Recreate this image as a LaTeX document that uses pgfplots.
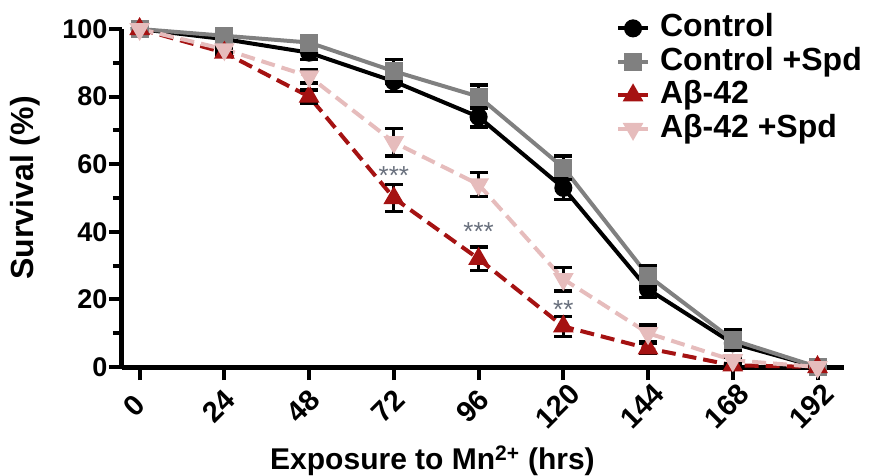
\documentclass[border=0pt]{standalone}
\usepackage{fontspec}
\setmainfont{Liberation Sans}
\usepackage{pgfplots}
\pgfplotsset{compat=1.18}
\definecolor{ctrlgray}{RGB}{128,128,128}
\definecolor{abred}{RGB}{165,18,18}
\definecolor{abpink}{RGB}{230,188,188}
\definecolor{stargray}{RGB}{105,112,125}
\begin{document}
\begin{tikzpicture}
\begin{axis}[
  name=ax,
  scale only axis, width=722pt, height=338pt,
  xmin=-5, xmax=199.5, ymin=0, ymax=100,
  axis lines*=left,
  axis line style={line width=5pt, black},
  xtick={0,24,...,192}, ytick={0,20,...,100}, minor ytick={10,30,50,70,90},
  tick align=outside, major tick length=13pt, minor tick length=9pt,
  tick style={black, line width=4pt},
  /pgf/number format/assume math mode=true,
  ticklabel style={font=\bfseries\fontsize{27}{27}\selectfont},
  yticklabel style={xshift=2pt},
  xticklabel style={font=\bfseries\fontsize{29}{29}\selectfont, anchor=center, xshift=-6pt, yshift=-26pt, rotate=45},
  xlabel={Exposure to Mn\textsuperscript{2+} (hrs)}, ylabel={Survival (\%)},
  xlabel style={font=\bfseries\fontsize{30}{30}\selectfont, at={(axis description cs:0.43,-0.278)}, anchor=center},
  ylabel style={font=\bfseries\fontsize{32}{32}\selectfont, at={(axis description cs:-0.134,0.53)}, anchor=center},
  clip=false,
  legend style={at={(axis description cs:0.684,1.052)}, anchor=north west, draw=none, fill=none,
    font=\bfseries\fontsize{32}{32}\selectfont, row sep=0pt, column sep=8pt, inner sep=0pt,
    nodes={inner sep=2pt, text height=23pt, text depth=6.5pt}},
  legend cell align=left,
  legend image code/.code={\draw[#1,solid,mark repeat=2,mark phase=2] plot coordinates {(0pt,0pt) (15pt,0pt) (30pt,0pt)};},
  every axis plot/.append style={line width=4pt},
  error bars/error bar style={black, line width=3pt, solid},
  error bars/error mark options={rotate=90, mark size=9pt, line width=3.5pt, black, solid},
]
\addplot[black, solid, mark=*, mark size=7pt, mark options={solid},
  error bars/.cd, y dir=both, y explicit]
  table[x=x, y=y, y error=e] {
x y e
0 100 0
24 97 1
48 93 2
72 84.5 3
96 74 3
120 53 3.5
144 23 2.5
168 7 2
192 0 0
};
\addlegendentry{Control}
\addplot[ctrlgray, solid, mark=square*, mark size=7pt, mark options={solid},
  error bars/.cd, y dir=both, y explicit]
  table[x=x, y=y, y error=e] {
x y e
0 100 0
24 98 1
48 96 1.5
72 87.5 3.5
96 80 3.5
120 59 3.5
144 27 3
168 8 3
192 0 0
};
\addlegendentry{Control +Spd}
\addplot[abred, dashed, dash pattern=on 14pt off 7pt, mark=triangle*, mark size=8pt, mark options={solid},
  error bars/.cd, y dir=both, y explicit]
  table[x=x, y=y, y error=e] {
x y e
0 100 0
24 93 1
48 80 2
72 50 4
96 32 3.5
120 12 3
144 5.5 1.5
168 0.5 0.5
192 0 0
};
\addlegendentry{Aβ-42}
\addplot[abpink, dashed, dash pattern=on 14pt off 7pt, mark=triangle*, mark size=8pt, mark options={solid, rotate=180},
  error bars/.cd, y dir=both, y explicit]
  table[x=x, y=y, y error=e] {
x y e
0 100 0
24 94 1
48 86 2
72 66.5 4
96 54 3.5
120 26 3.5
144 10 2.5
168 2 1
192 0 0
};
\addlegendentry{Aβ-42 +Spd}
\node[font=\fontsize{26}{26}\selectfont, text=stargray] at (axis cs:72,56.5) {***};
\node[font=\fontsize{26}{26}\selectfont, text=stargray] at (axis cs:96,40) {***};
\node[font=\fontsize{26}{26}\selectfont, text=stargray] at (axis cs:120,17) {**};
\end{axis}
\pgfresetboundingbox
\path ([shift={(-122pt,-108pt)}]ax.south west) rectangle ([shift={(748pt,367pt)}]ax.south west);
\end{tikzpicture}
\end{document}
